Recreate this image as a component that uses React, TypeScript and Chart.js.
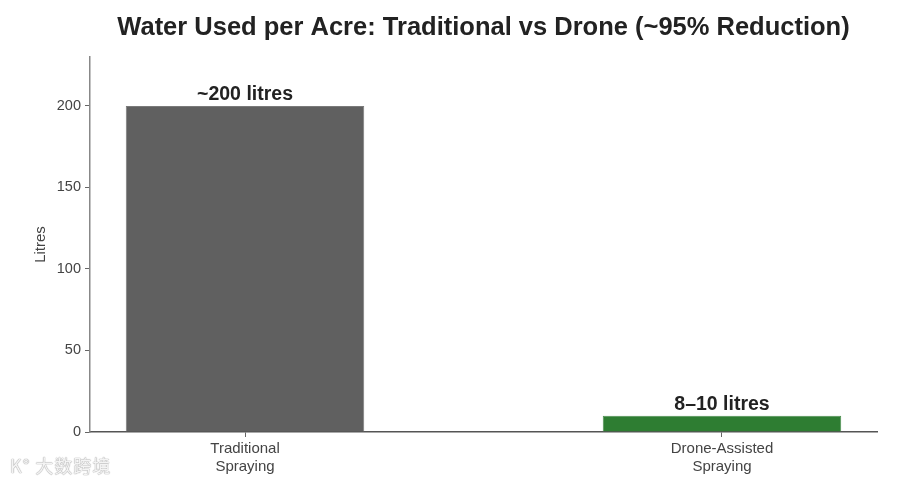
import React, { useEffect, useRef } from "react";
import { Chart, registerables } from "chart.js";

Chart.register(...registerables);

const categories: string[][] = [["Traditional", "Spraying"], ["Drone-Assisted", "Spraying"]];
const positions: number[] = [0, 1];
const litres: number[] = [200, 10];
const barLabels: string[] = ["~200 litres", "8–10 litres"];
const barColors: string[] = ["#606060", "#2e7d32"];
const yTicks: number[] = [0, 50, 100, 150, 200];
const titleText = "Water Used per Acre: Traditional vs Drone (~95% Reduction)";
const yTitle = "Litres";

const FONT = "'Liberation Sans', Arial, sans-serif";

const overlayPlugin = {
  id: "overlay",
  afterDatasetsDraw(chart: any) {
    const ctx = chart.ctx;
    const meta = chart.getDatasetMeta(0);
    ctx.save();
    ctx.fillStyle = "#222";
    ctx.font = `bold 19.5px ${FONT}`;
    ctx.textAlign = "center";
    ctx.textBaseline = "alphabetic";
    meta.data.forEach((el: any, i: number) => {
      ctx.fillText(barLabels[i], el.x, el.y - 6);
    });
    const ca = chart.chartArea;
    ctx.font = `bold 25.5px ${FONT}`;
    ctx.fillText(titleText, (ca.left + ca.right) / 2, 35);
    ctx.translate(41, (ca.top + ca.bottom) / 2);
    ctx.rotate(-Math.PI / 2);
    ctx.textBaseline = "middle";
    ctx.font = `15px ${FONT}`;
    ctx.fillStyle = "#444";
    ctx.fillText(yTitle, 0, 0);
    ctx.restore();
  },
};

export default function App() {
  const ref = useRef<HTMLCanvasElement>(null);
  useEffect(() => {
    if (!ref.current) return;
    const chart = new Chart(ref.current, {
      type: "bar",
      data: {
        datasets: [
          {
            data: positions.map((p, i) => ({ x: p, y: litres[i] })),
            backgroundColor: barColors,
            borderColor: ["#7a7a7a", "#4c8f4f"],
            borderWidth: 1,
            barPercentage: 0.5,
            categoryPercentage: 1.0,
          },
        ],
      },
      options: {
        animation: false,
        responsive: false,
        layout: { padding: { top: 57, right: 23, left: 0, bottom: 0 } },
        plugins: { legend: { display: false }, tooltip: { enabled: false }, title: { display: false } },
        scales: {
          x: {
            type: "linear",
            offset: false,
            min: -0.325,
            max: 1.325,
            afterBuildTicks: (scale: any) => {
              scale.ticks = positions.map((v) => ({ value: v }));
            },
            afterFit: (scale: any) => {
              scale.height = 51;
            },
            ticks: {
              callback: (v: any) => {
                const i = positions.indexOf(Number(v));
                return i >= 0 ? categories[i] : "";
              },
              font: { family: FONT, size: 15, lineHeight: 1.2 },
              color: "#444",
              padding: 3,
              maxRotation: 0,
              autoSkip: false,
            },
            grid: { display: true, offset: false, drawOnChartArea: false, drawTicks: true, tickLength: 5, color: "#666", lineWidth: 1 },
            border: { display: true, color: "#555", width: 1.5 },
          },
          y: {
            min: 0,
            max: 230,
            afterBuildTicks: (scale: any) => {
              scale.ticks = yTicks.map((v) => ({ value: v }));
            },
            afterFit: (scale: any) => {
              scale.width = 90;
            },
            ticks: {
              font: { family: FONT, size: 14.5 },
              color: "#444",
              padding: 4,
            },
            grid: { display: true, drawOnChartArea: false, drawTicks: true, tickLength: 5, color: "#666", lineWidth: 1 },
            border: { display: true, color: "#888", width: 1.5 },
          },
        },
      },
      plugins: [overlayPlugin],
    } as any);
    return () => chart.destroy();
  }, []);
  return (
    <div style={{ position: "absolute", left: 0, top: 0, width: 900, height: 483, background: "#fff" }}>
      <canvas ref={ref} width={900} height={483} style={{ width: 900, height: 483, display: "block" }} />
      <div
        style={{
          position: "absolute",
          left: 10,
          top: 452,
          fontFamily: "'Noto Sans CJK SC', sans-serif",
          fontSize: 18,
          color: "#f4f4f4",
          textShadow: "0 0 1px #999, 0 0 1px #999",
          letterSpacing: 1,
        }}
      >
        K° 大数跨境
      </div>
    </div>
  );
}
